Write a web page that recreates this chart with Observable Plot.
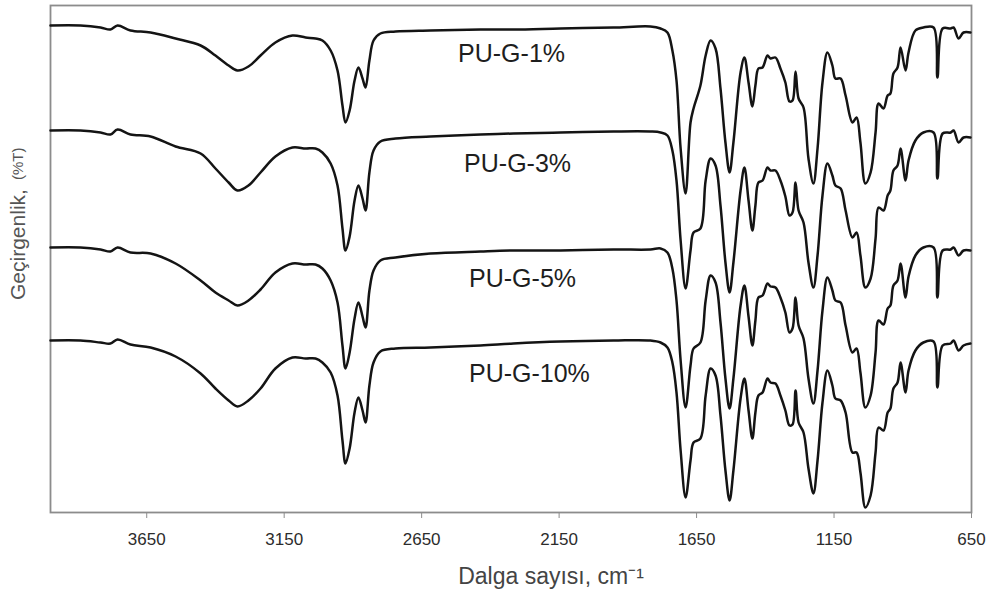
<!DOCTYPE html>
<html>
<head>
<meta charset="utf-8">
<script src="https://cdn.jsdelivr.net/npm/d3@7"></script>
<script src="https://cdn.jsdelivr.net/npm/@observablehq/plot@0.6"></script>
<style>
  html, body { margin: 0; padding: 0; background: #fff; }
  #chart { width: 995px; height: 602px; }
</style>
</head>
<body>
<div id="chart"></div>
<script>
// Wavenumber sample points (cm^-1), shared by all spectra
const wavenumber = [4000,3891,3818,3782,3756,3709,3636,3545,3454,3400,
  3352,3320,3280,3236,3182,3120,3072,3036,3011,2981,
  2956,2938,2927,2912,2894,2880,2865,2854,2840,2825,
  2800,2745,2618,2436,2316,2145,1952,1818,1781,1756,
  1738,1723,1708,1690,1672,1661,1636,1617,1599,1581,
  1563,1545,1530,1516,1490,1476,1461,1447,1436,1425,
  1410,1392,1381,1363,1345,1327,1312,1301,1290,1279,
  1261,1243,1225,1210,1192,1174,1156,1145,1126,1108,
  1083,1068,1054,1036,1017,999,988,970,955,945,
  934,919,908,890,879,854,825,788,774,755,
  726,715,697,679,654];

// Offset transmittance (arbitrary units) per sample
const pu1 = [97.4,97.4,97.0,96.6,97.4,96.4,96.0,94.8,93.4,91.4,
  89.4,88.4,89.2,91.4,94.0,95.4,95.0,94.8,94.4,92.4,
  88.4,81.4,78.0,80.4,86.4,89.0,86.8,85.0,90.4,94.4,
  95.8,96.2,96.4,96.6,96.6,96.8,97.0,97.2,96.8,96.0,
  92.4,86.4,72.8,63.8,78.0,80.8,85.4,91.4,94.4,92.8,
  84.8,74.0,68.0,74.0,88.0,91.0,86.0,81.2,85.4,88.8,
  89.0,91.4,90.8,91.0,88.8,86.0,82.2,82.4,88.2,82.8,
  81.0,70.8,65.8,72.8,86.0,92.0,89.4,86.8,86.8,83.4,
  78.0,79.0,74.0,65.8,68.0,76.0,81.8,80.8,83.4,83.8,
  87.8,89.0,93.0,88.4,92.0,96.4,97.0,97.0,87.0,96.8,
  96.8,97.0,94.8,96.0,96.0];

const pu3 = [76.4,76.4,76.0,75.6,76.6,75.6,75.2,73.2,71.8,68.8,
  66.0,64.4,65.4,68.0,71.2,73.0,72.8,72.8,72.0,69.8,
  65.4,56.8,52.4,55.2,62.4,65.4,62.8,60.4,68.0,72.4,
  74.2,74.8,75.2,75.6,75.8,76.0,76.2,76.2,76.0,75.4,
  72.4,66.4,54.4,44.8,52.4,56.0,56.8,66.4,70.8,69.4,
  61.4,50.0,44.0,50.0,64.4,69.0,62.4,56.4,61.4,66.0,
  66.4,69.0,68.4,68.4,66.4,63.2,59.4,60.0,66.0,60.4,
  58.0,50.0,45.0,51.4,63.4,69.8,67.4,65.4,64.8,60.4,
  55.0,56.0,51.4,45.0,46.8,54.8,61.0,60.4,63.4,64.4,
  68.4,69.4,72.8,66.4,70.4,74.4,76.0,76.0,66.8,75.8,
  76.0,76.4,74.0,75.0,75.0];

const pu5 = [53.0,53.0,52.6,52.2,53.0,52.0,51.8,49.8,46.4,44.0,
  42.4,41.4,42.4,44.6,48.0,49.8,49.6,49.6,48.8,46.4,
  42.0,33.4,28.8,32.0,38.8,42.0,39.2,37.0,44.4,48.4,
  50.4,51.0,51.8,52.2,52.4,52.4,52.6,52.6,52.8,52.0,
  48.8,42.4,30.4,21.0,29.4,32.8,34.0,42.4,47.4,46.0,
  38.0,26.8,20.8,26.8,41.4,45.4,39.2,33.4,38.4,43.0,
  43.4,45.8,45.2,45.0,43.0,40.0,36.0,36.8,43.0,37.4,
  34.8,26.8,21.8,28.4,40.4,47.0,44.4,42.4,42.0,37.4,
  32.0,32.8,28.0,21.0,23.4,32.0,38.4,37.6,40.8,41.4,
  45.4,46.4,49.8,43.0,47.2,51.4,53.0,53.0,43.0,52.4,
  52.6,53.0,51.4,52.4,52.4];

const pu10 = [34.4,34.4,34.0,33.8,34.6,33.6,33.0,31.2,27.8,24.8,
  22.4,21.2,22.4,24.8,28.8,31.0,30.8,30.8,30.0,28.0,
  23.4,14.4,9.8,12.8,20.0,23.0,20.4,18.0,25.4,30.0,
  32.2,32.8,33.0,33.4,33.8,34.2,34.4,34.4,34.0,33.0,
  30.0,24.0,12.4,3.0,10.4,14.0,14.8,23.4,28.8,27.4,
  19.4,8.4,2.4,8.4,22.8,26.8,20.4,14.8,20.0,23.4,
  24.0,26.8,26.0,25.8,23.4,20.4,17.4,17.6,24.4,18.0,
  16.0,8.8,3.8,10.4,22.0,28.4,25.4,22.8,22.4,20.0,
  12.0,12.0,8.0,1.0,3.4,12.0,17.0,16.4,20.0,20.8,
  24.8,26.0,30.0,24.0,28.4,32.4,34.0,34.2,25.0,33.4,
  33.8,34.4,32.4,33.4,33.8];

const seriesNames = ["PU-G-1%", "PU-G-3%", "PU-G-5%", "PU-G-10%"];
const seriesValues = [pu1, pu3, pu5, pu10];

// Series label anchors (wavenumber, value)
const labelX = [2323, 2301, 2283, 2258];
const labelY = [91.8, 69.8, 46.8, 27.8];

const xTicks = [3650, 3150, 2650, 2150, 1650, 1150, 650];
const xLabel = "Dalga sayısı, cm⁻¹";
const yLabel = "Geçirgenlik,";
const yUnit = "(%T)";

const rows = [];
seriesNames.forEach((name, i) => {
  wavenumber.forEach((w, j) => rows.push({series: name, w, t: seriesValues[i][j]}));
});
const labelRows = seriesNames.map((name, i) => ({name, w: labelX[i], t: labelY[i]}));

const plot = Plot.plot({
  width: 995,
  height: 602,
  marginLeft: 50,
  marginRight: 24,
  marginTop: 5,
  marginBottom: 90,
  style: {fontFamily: "'Liberation Sans', Arial, sans-serif", background: "#fff", color: "#333"},
  x: {domain: [4000, 650]},
  y: {domain: [0, 101.4], axis: null},
  marks: [
    Plot.frame({stroke: "#8c8c8c", strokeWidth: 1.8}),
    Plot.axisX({ticks: xTicks, tickSize: 6, tickPadding: 14, stroke: "#8c8c8c", fill: "#2c2c2c",
      fontSize: 17, label: null, tickFormat: d => String(d)}),
    Plot.line(rows, {x: "w", y: "t", z: "series", stroke: "#141414", strokeWidth: 2.5, curve: "catmull-rom"}),
    Plot.text(labelRows, {x: "w", y: "t", text: "name", fontSize: 25, fill: "#1e1e1e"}),
    Plot.text([xLabel], {frameAnchor: "bottom", dx: 40, dy: 71, fontSize: 23, fill: "#444"}),
    Plot.text([yLabel], {frameAnchor: "left", rotate: -90, textAnchor: "start", dx: -32, dy: 41, fontSize: 21, fill: "#555"}),
    Plot.text([yUnit], {frameAnchor: "left", rotate: -90, textAnchor: "start", dx: -32, dy: -79, fontSize: 15, fill: "#555"})
  ]
});
document.getElementById("chart").appendChild(plot);
</script>
</body>
</html>
